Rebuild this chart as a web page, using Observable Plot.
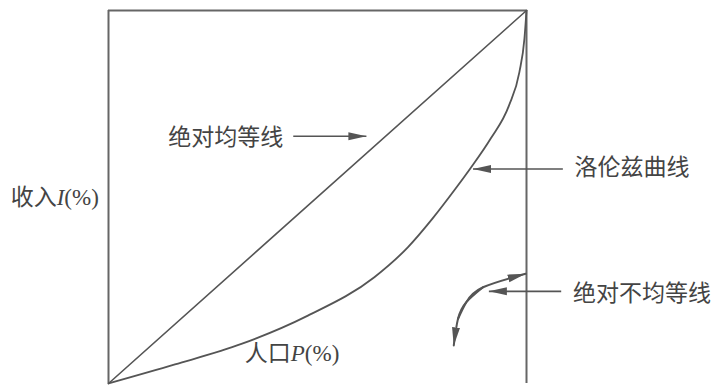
<!DOCTYPE html>
<html>
<head>
<meta charset="utf-8">
<script src="https://cdn.jsdelivr.net/npm/d3@7"></script>
<script src="https://cdn.jsdelivr.net/npm/@observablehq/plot@0.6"></script>
<style>
  html, body { margin: 0; padding: 0; background: #ffffff; }
  #chart svg { display: block; overflow: visible; }
</style>
</head>
<body>
<div id="chart"></div>
<script>
// Lorenz curve: cumulative population % vs cumulative income %
const populationPct = [0, 15.9, 31.8, 47.7, 63.6, 71.6, 77.5, 83, 86.6, 91.4, 95.8, 98.3, 99.5, 100];
const incomePct     = [0, 5.1, 10.6, 18.2, 28.5, 36.5, 44.2, 52.2, 57.7, 65.6, 74.5, 83.5, 92.4, 100];

// Line of perfect equality
const equalityPct = [0, 100];

// Text annotations (data units)
const labelText = ["绝对均等线", "洛伦兹曲线", "绝对不均等线", "人口P(%)", "收入I(%)"];
const labelX    = [14.3, 111.5, 111.1, 32.6, -23.4];
const labelY    = [66.0, 57.8, 24.1, 7.9, 49.7];

// Straight pointer arrows (data units)
const arrowX1 = [44.2, 108.7, 108.3];
const arrowX2 = [61.7, 87.2, 91.0];
const arrowY  = [66.3, 57.5, 24.7];

// Curved double-headed arrow, drawn as two halves each ending in a head (data units)
const arcSide = ["up", "up", "up", "up", "down", "down", "down", "down"];
const arcX    = [83.6, 85.6, 89.6, 99.8, 89.6, 85.6, 83.6, 82.6];
const arcY    = [17.3, 21.8, 25.8, 29.4, 25.8, 21.8, 17.3, 10.2];

const lineColor = "#555";
const textColor = "#444";

const lorenz = populationPct.map((p, i) => ({p, v: incomePct[i]}));
const equality = equalityPct.map(p => ({p, v: p}));
const labels = labelText.map((t, i) => ({t, x: labelX[i], y: labelY[i]}));
const arrows = arrowY.map((y, i) => ({x1: arrowX1[i], x2: arrowX2[i], y}));
const arc = arcX.map((x, i) => ({x, y: arcY[i], side: arcSide[i]}));

const plot = Plot.plot({
  width: 715,
  height: 385,
  marginLeft: 108,
  marginRight: 189,
  marginTop: 10,
  marginBottom: 2,
  x: {domain: [0, 100], axis: null},
  y: {domain: [0, 100], axis: null},
  style: {background: "#ffffff", fontFamily: "'Noto Sans CJK SC', sans-serif"},
  marks: [
    Plot.ruleX([0, 100], {y1: 0, y2: 100, stroke: "#666", strokeWidth: 2}),
    Plot.ruleY([100], {x1: 0, x2: 100, stroke: "#666", strokeWidth: 2}),
    Plot.line(equality, {x: "p", y: "v", stroke: lineColor, strokeWidth: 1.6}),
    Plot.line(lorenz, {x: "p", y: "v", stroke: lineColor, strokeWidth: 1.8, curve: "monotone-x"}),
    Plot.link(arrows, {x1: "x1", x2: "x2", y1: "y", y2: "y", stroke: lineColor, strokeWidth: 1.6, markerEnd: "arrow"}),
    Plot.line(arc, {x: "x", y: "y", z: "side", stroke: lineColor, strokeWidth: 2, curve: "natural", markerEnd: "arrow"}),
    Plot.text(labels, {x: "x", y: "y", text: "t", textAnchor: "start", fill: textColor, fontSize: 23, fontFamily: "'Noto Sans CJK SC', sans-serif"})
  ]
});

// Filled triangular arrowheads
d3.select(plot).selectAll("marker").each(function() {
  const m = d3.select(this);
  m.attr("viewBox", "-18 -5 20 10")
   .attr("markerUnits", "userSpaceOnUse")
   .attr("markerWidth", 20)
   .attr("markerHeight", 10)
   .attr("refX", 0).attr("refY", 0)
   .attr("fill", lineColor)
   .attr("stroke", "none");
  m.selectAll("*").remove();
  m.append("path").attr("d", "M-18,-4L0,0L-18,4Z").attr("fill", lineColor).attr("stroke", "none");
});

// Italic serif variable letters in axis captions
d3.select(plot).selectAll("text").each(function() {
  const t = d3.select(this);
  const s = this.textContent;
  const m = s.match(/^(.*?)([PI])(\(%\))$/);
  if (m) {
    t.text(null);
    t.append("tspan").text(m[1]);
    t.append("tspan").attr("font-family", "'Liberation Serif', serif").attr("font-style", "italic").text(m[2]);
    t.append("tspan").attr("font-family", "'Liberation Serif', serif").text(m[3]);
  }
});

document.getElementById("chart").appendChild(plot);
</script>
</body>
</html>
